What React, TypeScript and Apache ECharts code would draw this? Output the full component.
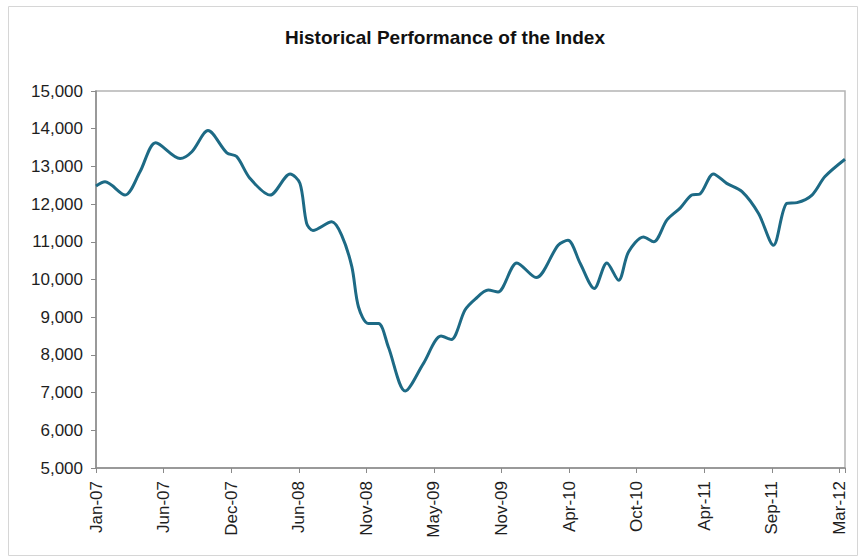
import React, { useEffect, useRef } from "react";
import * as echarts from "echarts";

const TITLE = "Historical Performance of the Index";

const dates: string[] = [
  "2007-01-05", "2007-01-28", "2007-03-20", "2007-04-27", "2007-06-06", "2007-08-07",
  "2007-09-06", "2007-10-17", "2007-12-04", "2007-12-29", "2008-02-01", "2008-03-23",
  "2008-05-13", "2008-06-07", "2008-06-24", "2008-07-10", "2008-08-27", "2008-09-21",
  "2008-10-17", "2008-11-03", "2008-11-28", "2008-12-24", "2009-01-18", "2009-03-02",
  "2009-04-17", "2009-06-01", "2009-06-27", "2009-08-01", "2009-08-27", "2009-09-29",
  "2009-10-24", "2009-12-11", "2010-01-29", "2010-03-26", "2010-04-20", "2010-05-21",
  "2010-06-26", "2010-07-28", "2010-08-27", "2010-09-21", "2010-10-29", "2010-11-24",
  "2010-12-28", "2011-01-31", "2011-03-01", "2011-03-22", "2011-04-25", "2011-05-29",
  "2011-07-07", "2011-08-18", "2011-09-25", "2011-10-29", "2011-11-24", "2012-01-01",
  "2012-02-03", "2012-03-25",
];

const values: number[] = [
  12480, 12590, 12240, 12860, 13630, 13210,
  13390, 13950, 13360, 13260, 12680, 12240,
  12800, 12550, 11490, 11300, 11530, 11180,
  10340, 9270, 8830, 8830, 8210, 7040,
  7770, 8500, 8410, 9190, 9480, 9720,
  9670, 10440, 10050, 10910, 11040, 10430,
  9760, 10440, 9980, 10730, 11130, 11000,
  11580, 11900, 12240, 12270, 12800, 12550,
  12330, 11750, 10910, 12020, 12040, 12240,
  12730, 13190,
];

const tickLabels: string[] = [
  "Jan-07", "Jun-07", "Dec-07", "Jun-08", "Nov-08", "May-09",
  "Nov-09", "Apr-10", "Oct-10", "Apr-11", "Sep-11", "Mar-12",
];

const Y_MIN = 5000;
const Y_MAX = 15000;
const Y_STEP = 1000;
const TICK_DAYS = 172;
const ORIGIN = Date.UTC(2007, 0, 5);
const DAY = 86400000;

const toDay = (s: string) => {
  const [y, m, d] = s.split("-").map(Number);
  return Math.round((Date.UTC(y, m - 1, d) - ORIGIN) / DAY);
};

const FONT = "'Liberation Sans', Arial, Helvetica, sans-serif";

export default function App() {
  const ref = useRef<HTMLDivElement>(null);

  useEffect(() => {
    if (!ref.current) return;
    const chart = echarts.init(ref.current, undefined, { renderer: "svg" });
    const points = dates.map((d, i) => [toDay(d), values[i]]);
    const lastDay = toDay(dates[dates.length - 1]);

    chart.setOption({
      animation: false,
      backgroundColor: "#ffffff",
      title: {
        text: TITLE,
        left: 440,
        top: 23,
        textAlign: "center",
        textStyle: {
          fontFamily: FONT,
          fontSize: 19,
          fontWeight: "bold",
          color: "#111111",
        },
      },
      graphic: [
        {
          type: "rect",
          shape: { x: 8.5, y: 6.5, width: 849, height: 549 },
          style: { fill: "none", stroke: "#d6d6d6", lineWidth: 1 },
          silent: true,
          z: -1,
        },
      ],
      grid: {
        left: 96,
        right: 15,
        top: 91,
        bottom: 89,
        show: true,
        borderColor: "#b4b4b4",
        borderWidth: 1.5,
      },
      xAxis: {
        type: "value",
        min: 0,
        max: lastDay,
        interval: TICK_DAYS,
        axisLine: { show: true, onZero: false, lineStyle: { color: "#8a8a8a", width: 1.5 } },
        axisTick: { show: true, length: 5, lineStyle: { color: "#8a8a8a" } },
        splitLine: { show: false },
        axisLabel: {
          rotate: 90,
          margin: 13,
          fontFamily: FONT,
          fontSize: 17,
          color: "#1e1e1e",
          formatter: (v: number) => {
            const k = Math.round(v / TICK_DAYS);
            if (Math.abs(v - k * TICK_DAYS) > 0.5) return "";
            return tickLabels[k] ?? "";
          },
        },
      },
      yAxis: {
        type: "value",
        min: Y_MIN,
        max: Y_MAX,
        interval: Y_STEP,
        axisLine: { show: true, lineStyle: { color: "#8a8a8a", width: 1.5 } },
        axisTick: { show: true, length: 5, lineStyle: { color: "#8a8a8a" } },
        splitLine: { show: false },
        axisLabel: {
          margin: 13,
          fontFamily: FONT,
          fontSize: 17,
          color: "#1e1e1e",
          formatter: (v: number) => v.toLocaleString("en-US"),
        },
      },
      series: [
        {
          type: "line",
          data: points,
          smooth: 0.3,
          showSymbol: false,
          symbol: "none",
          lineStyle: { color: "#1d6a85", width: 3 },
        },
      ],
    });

    return () => chart.dispose();
  }, []);

  return (
    <div
      ref={ref}
      style={{ position: "fixed", left: 0, top: 0, width: 860, height: 557, background: "#fff" }}
    />
  );
}
